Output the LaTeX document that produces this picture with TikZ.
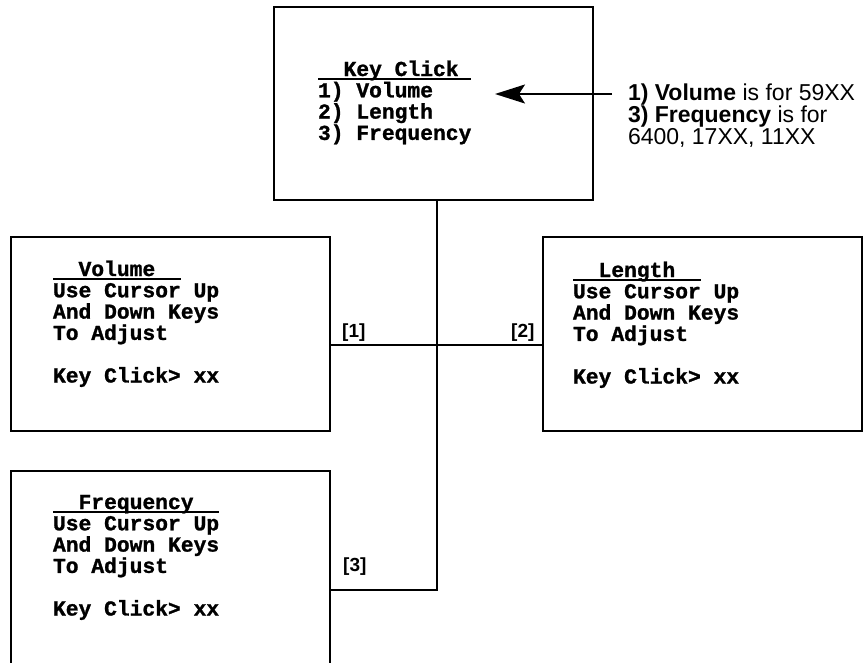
\documentclass[tikz,border=0pt]{standalone}
\usepackage{fontspec}
\setmainfont{Liberation Sans}
\newfontfamily\termfont[BoldFeatures={FakeBold=1.2}]{Liberation Mono}
\usetikzlibrary{arrows.meta}
\newsavebox\ulbox
\newcommand\ulin[1]{\leavevmode\sbox\ulbox{#1}\rlap{\rule[-3.5pt]{\wd\ulbox}{1.6pt}}\usebox\ulbox}
\newcommand\term{\termfont\bfseries\fontsize{21.3}{21.3}\selectfont\lineskiplimit=-100pt\relax}
\tikzset{
  screen/.style={draw, line width=1.6pt, anchor=north west, minimum width=319pt, inner sep=0pt, outer sep=0pt},
  screentext/.style={anchor=base west, inner sep=0pt, outer sep=0pt},
  link/.style={line width=1.6pt},
  lbl/.style={anchor=base west, inner sep=0pt, font=\fontsize{19}{19}\selectfont\bfseries},
}
\begin{document}
\begin{tikzpicture}[x=1pt,y=-1pt]
\useasboundingbox (0,0) rectangle (867,662);
\clip (0,0) rectangle (867,662);
% screens
\node[screen, minimum height=193pt] (top) at (274,7) {};
\node[screen, minimum height=194pt] (vol) at (11,237) {};
\node[screen, minimum height=194pt] (len) at (543,237) {};
\node[screen, minimum height=200pt] (freq) at (11,471) {};
% screen texts
\node[screentext] (topt) at (318,76) {\parbox[t]{300pt}{\term\ulin{\ \ Key Click\ }\\1) Volume\\2) Length\\3) Frequency}};
\node[screentext] (volt) at (53,276) {\parbox[t]{300pt}{\term\ulin{\ \ Volume\ \ }\\Use Cursor Up\\And Down Keys\\To Adjust\\[21.3pt]Key Click> xx}};
\node[screentext] (lent) at (573,277) {\parbox[t]{300pt}{\term\ulin{\ \ Length\ \ }\\Use Cursor Up\\And Down Keys\\To Adjust\\[21.3pt]Key Click> xx}};
\node[screentext] (freqt) at (53,509) {\parbox[t]{300pt}{\term\ulin{\ \ Frequency\ \ }\\Use Cursor Up\\And Down Keys\\To Adjust\\[21.3pt]Key Click> xx}};
% note
\node[screentext] (note) at (628,100) {\parbox[t]{300pt}{\fontsize{23}{22}\selectfont\lineskiplimit=-100pt\textbf{1) Volume} is for 59XX\\\textbf{3) Frequency} is for\\6400, 17XX, 11XX}};
\coordinate (tip) at (495,94);
\path (note.west |- tip) ++(-16,0) coordinate (tail);
\draw[link, -{Stealth[length=30pt,width=19pt,inset=6pt]}] (tail) -- (tip);
% connectors
\coordinate (j1) at (437,345);
\coordinate (j3) at (437,590);
\draw[link] (top.south -| j1) -- (j3) -- (freq.east |- j3);
\draw[link] (vol.east |- j1) -- (len.west |- j1);
% labels
\node[lbl] (l1) at (342,337) {[1]};
\node[lbl] (l2) at (511,337) {[2]};
\node[lbl] (l3) at (343,571) {[3]};
\end{tikzpicture}
\end{document}
